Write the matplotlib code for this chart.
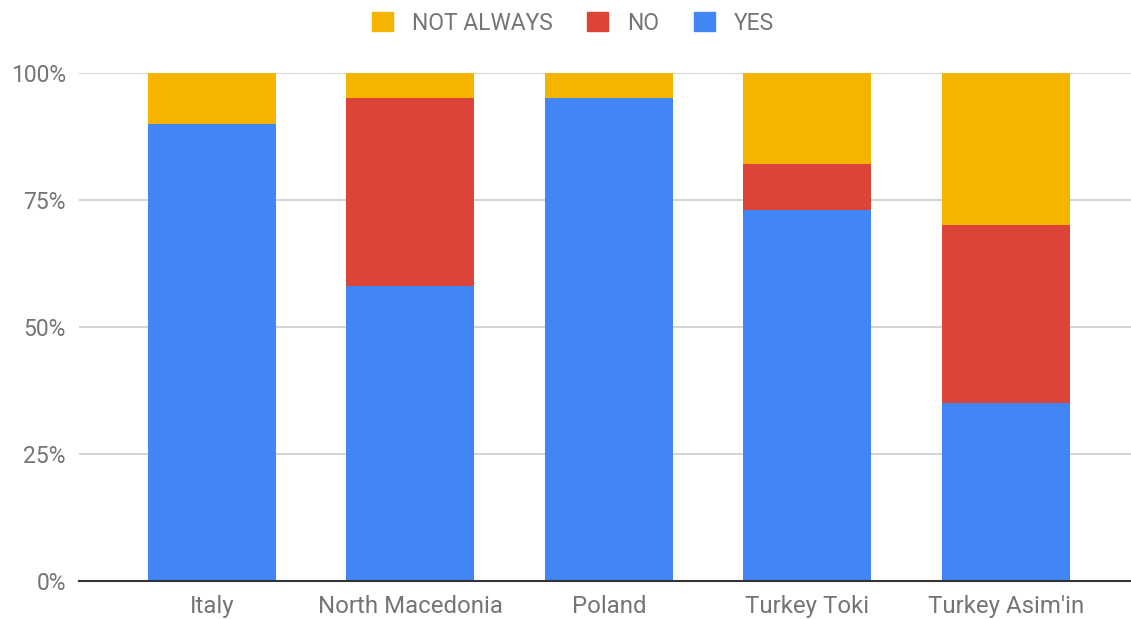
import numpy as np
import matplotlib.pyplot as plt
from matplotlib.patches import Patch

plt.rcParams['font.family'] = ['Roboto', 'DejaVu Sans']

countries = ['Italy', 'North Macedonia', 'Poland', 'Turkey Toki', "Turkey Asim'in"]
yes = [90, 58, 95, 73, 35]
no = [0, 37, 0, 9, 35]
not_always = [10, 5, 5, 18, 30]

c_yes = '#4285F4'
c_no = '#DB4437'
c_na = '#F4B400'
text_col = '#757575'

fig = plt.figure(figsize=(11.31, 6.19), dpi=100)
ax = fig.add_axes([79 / 1131, 38 / 619, 1 - 79 / 1131, 508 / 619])

x = np.arange(len(countries))
yes_a = np.array(yes)
no_a = np.array(no)
na_a = np.array(not_always)
w = 0.645
ax.bar(x, yes_a, w, color=c_yes, zorder=2)
ax.bar(x, no_a, w, bottom=yes_a, color=c_no, zorder=2)
ax.bar(x, na_a, w, bottom=yes_a + no_a, color=c_na, zorder=2)

ax.set_xlim(-0.67, 4.63)
ax.set_ylim(0, 100)
ax.set_yticks([0, 25, 50, 75, 100])
ax.set_yticklabels(['0%', '25%', '50%', '75%', '100%'])
ax.set_xticks(x)
ax.set_xticklabels(countries)
ax.tick_params(axis='both', length=0, colors=text_col)
ax.tick_params(axis='x', pad=10, labelsize=17.3)
ax.tick_params(axis='y', pad=9.4, labelsize=16.5)
ax.grid(axis='y', color='#cccccc', linewidth=1.2, zorder=0)
for s in ['top', 'right', 'left']:
    ax.spines[s].set_visible(False)
ax.spines['bottom'].set_color('#333333')
ax.spines['bottom'].set_linewidth(1.5)
ax.spines['bottom'].set_zorder(3)

handles = [Patch(color=c_na, label='NOT ALWAYS'),
           Patch(color=c_no, label='NO'),
           Patch(color=c_yes, label='YES')]
leg = fig.legend(handles=handles, loc='center', bbox_to_anchor=(573 / 1131, 1 - 23 / 619),
                 ncol=3, frameon=False, fontsize=16.5, handlelength=0.92,
                 handleheight=0.92, handletextpad=0.83, columnspacing=1.5)
for t in leg.get_texts():
    t.set_color(text_col)

fig.savefig('out.png', dpi=100)
